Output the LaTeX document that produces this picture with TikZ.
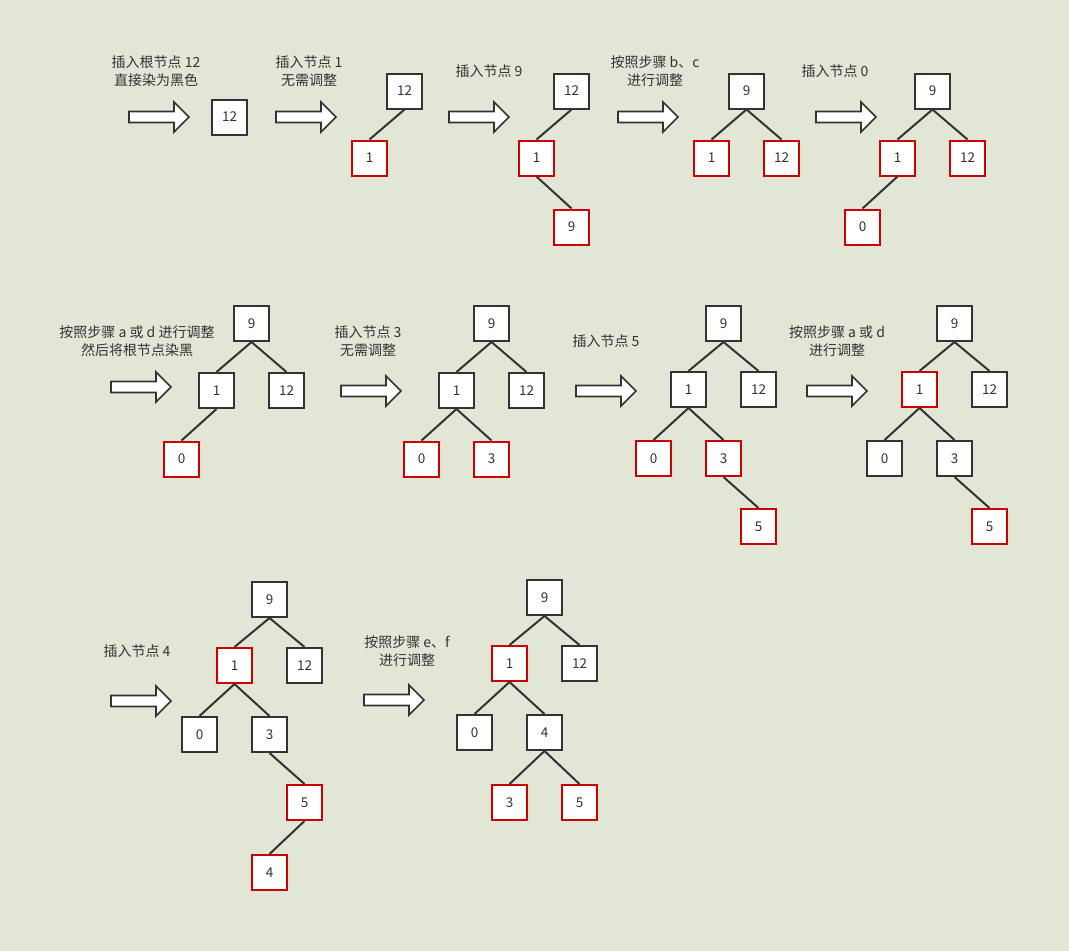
\documentclass[tikz,border=0pt]{standalone}
\usepackage{fontspec}
\setmainfont{Noto Sans CJK SC}
\definecolor{bg}{RGB}{225,230,215}
\definecolor{bline}{RGB}{51,51,51}
\definecolor{redc}{RGB}{204,0,0}
\definecolor{txt}{RGB}{51,51,51}
\newcommand\fatarrow[2]{\draw[arr] (#1,#2-5.5) -- ++(45,0) -- ++(0,-9.5) -- (#1+60,#2) -- (#1+45,#2+15) -- ++(0,-9.5) -- (#1,#2+5.5) -- cycle;}
\begin{document}
\begin{tikzpicture}[x=1pt,y=-1pt,
 box/.style={draw, fill=white, minimum size=35pt, inner sep=0pt, line width=2pt, font=\fontsize{13.5}{16}\selectfont, text=txt},
 bk/.style={box, draw=bline},
 rd/.style={box, draw=redc},
 lbl/.style={align=center, font=\fontsize{14}{18}\selectfont, text=txt, inner sep=0pt},
 edge/.style={line width=2pt, draw=bline},
 arr/.style={draw=bline, fill=white, line width=1.6pt, line join=miter}]
\fill[bg] (0,0) rectangle (1069,951);
\useasboundingbox (0,0) rectangle (1069,951);

% ---------- Row 1 ----------
\node[lbl] (l1) at (156,71) {插入根节点 12\\直接染为黑色};
\fatarrow{129}{117}
\node[bk] (r1) at (229.5,117) {12};

\node[lbl] (l2) at (309,71) {插入节点 1\\无需调整};
\fatarrow{276}{117}
\node[bk] (a12) at (404.5,91) {12};
\node[rd] (a1) at (369.5,158) {1};
\draw[edge] (a12.south) -- (a1.north);

\node[lbl] (l3) at (489,71) {插入节点 9};
\fatarrow{449}{117}
\node[bk] (b12) at (571.5,91) {12};
\node[rd] (b1) at (536.5,158) {1};
\node[rd] (b9) at (571.5,227) {9};
\draw[edge] (b12.south) -- (b1.north);
\draw[edge] (b1.south) -- (b9.north);

\node[lbl] (l4) at (655,71) {按照步骤 b、c\\进行调整};
\fatarrow{618}{117}
\node[bk] (c9) at (746.5,91) {9};
\node[rd] (c1) at (711.5,158) {1};
\node[rd] (c12) at (781.5,158) {12};
\draw[edge] (c9.south) -- (c1.north);
\draw[edge] (c9.south) -- (c12.north);

\node[lbl] (l5) at (835,71) {插入节点 0};
\fatarrow{816}{117}
\node[bk] (d9) at (932.5,91) {9};
\node[rd] (d1) at (897.5,158) {1};
\node[rd] (d12) at (967.5,158) {12};
\node[rd] (d0) at (862.5,227) {0};
\draw[edge] (d9.south) -- (d1.north);
\draw[edge] (d9.south) -- (d12.north);
\draw[edge] (d1.south) -- (d0.north);

% ---------- Row 2 ----------
\node[lbl] (l6) at (137,341) {按照步骤 a 或 d 进行调整\\然后将根节点染黑};
\fatarrow{111}{387}
\node[bk] (e9) at (251.5,323.5) {9};
\node[bk] (e1) at (216.5,390.5) {1};
\node[bk] (e12) at (286.5,390.5) {12};
\node[rd] (e0) at (181.5,459) {0};
\draw[edge] (e9.south) -- (e1.north);
\draw[edge] (e9.south) -- (e12.north);
\draw[edge] (e1.south) -- (e0.north);

\node[lbl] (l7) at (368,341) {插入节点 3\\无需调整};
\fatarrow{341}{391}
\node[bk] (f9) at (491.5,323.5) {9};
\node[bk] (f1) at (456.5,390.5) {1};
\node[bk] (f12) at (526.5,390.5) {12};
\node[rd] (f0) at (421.5,459) {0};
\node[rd] (f3) at (491.5,459) {3};
\draw[edge] (f9.south) -- (f1.north);
\draw[edge] (f9.south) -- (f12.north);
\draw[edge] (f1.south) -- (f0.north);
\draw[edge] (f1.south) -- (f3.north);

\node[lbl] (l8) at (606,341) {插入节点 5};
\fatarrow{576}{391}
\node[bk] (g9) at (723.5,323.5) {9};
\node[bk] (g1) at (688.5,389.5) {1};
\node[bk] (g12) at (758.5,389.5) {12};
\node[rd] (g0) at (653.5,458.5) {0};
\node[rd] (g3) at (723.5,458.5) {3};
\node[rd] (g5) at (758.5,526.5) {5};
\draw[edge] (g9.south) -- (g1.north);
\draw[edge] (g9.south) -- (g12.north);
\draw[edge] (g1.south) -- (g0.north);
\draw[edge] (g1.south) -- (g3.north);
\draw[edge] (g3.south) -- (g5.north);

\node[lbl] (l9) at (837,341) {按照步骤 a 或 d\\进行调整};
\fatarrow{807}{391}
\node[bk] (h9) at (954.5,323.5) {9};
\node[rd] (h1) at (919.5,389.5) {1};
\node[bk] (h12) at (989.5,389.5) {12};
\node[bk] (h0) at (884.5,458.5) {0};
\node[bk] (h3) at (954.5,458.5) {3};
\node[rd] (h5) at (989.5,526.5) {5};
\draw[edge] (h9.south) -- (h1.north);
\draw[edge] (h9.south) -- (h12.north);
\draw[edge] (h1.south) -- (h0.north);
\draw[edge] (h1.south) -- (h3.north);
\draw[edge] (h3.south) -- (h5.north);

% ---------- Row 3 ----------
\node[lbl] (l10) at (137,651) {插入节点 4};
\fatarrow{111}{701}
\node[bk] (i9) at (269.5,599.5) {9};
\node[rd] (i1) at (234.5,665.5) {1};
\node[bk] (i12) at (304.5,665.5) {12};
\node[bk] (i0) at (199.5,734.5) {0};
\node[bk] (i3) at (269.5,734.5) {3};
\node[rd] (i5) at (304.5,802.5) {5};
\node[rd] (i4) at (269.5,872.5) {4};
\draw[edge] (i9.south) -- (i1.north);
\draw[edge] (i9.south) -- (i12.north);
\draw[edge] (i1.south) -- (i0.north);
\draw[edge] (i1.south) -- (i3.north);
\draw[edge] (i3.south) -- (i5.north);
\draw[edge] (i5.south) -- (i4.north);

\node[lbl] (l11) at (407,651) {按照步骤 e、f\\进行调整};
\fatarrow{364}{700}
\node[bk] (j9) at (544.5,597.5) {9};
\node[rd] (j1) at (509.5,663.5) {1};
\node[bk] (j12) at (579.5,663.5) {12};
\node[bk] (j0) at (474.5,732.5) {0};
\node[bk] (j4) at (544.5,732.5) {4};
\node[rd] (j3) at (509.5,802.5) {3};
\node[rd] (j5) at (579.5,802.5) {5};
\draw[edge] (j9.south) -- (j1.north);
\draw[edge] (j9.south) -- (j12.north);
\draw[edge] (j1.south) -- (j0.north);
\draw[edge] (j1.south) -- (j4.north);
\draw[edge] (j4.south) -- (j3.north);
\draw[edge] (j4.south) -- (j5.north);
\end{tikzpicture}
\end{document}
